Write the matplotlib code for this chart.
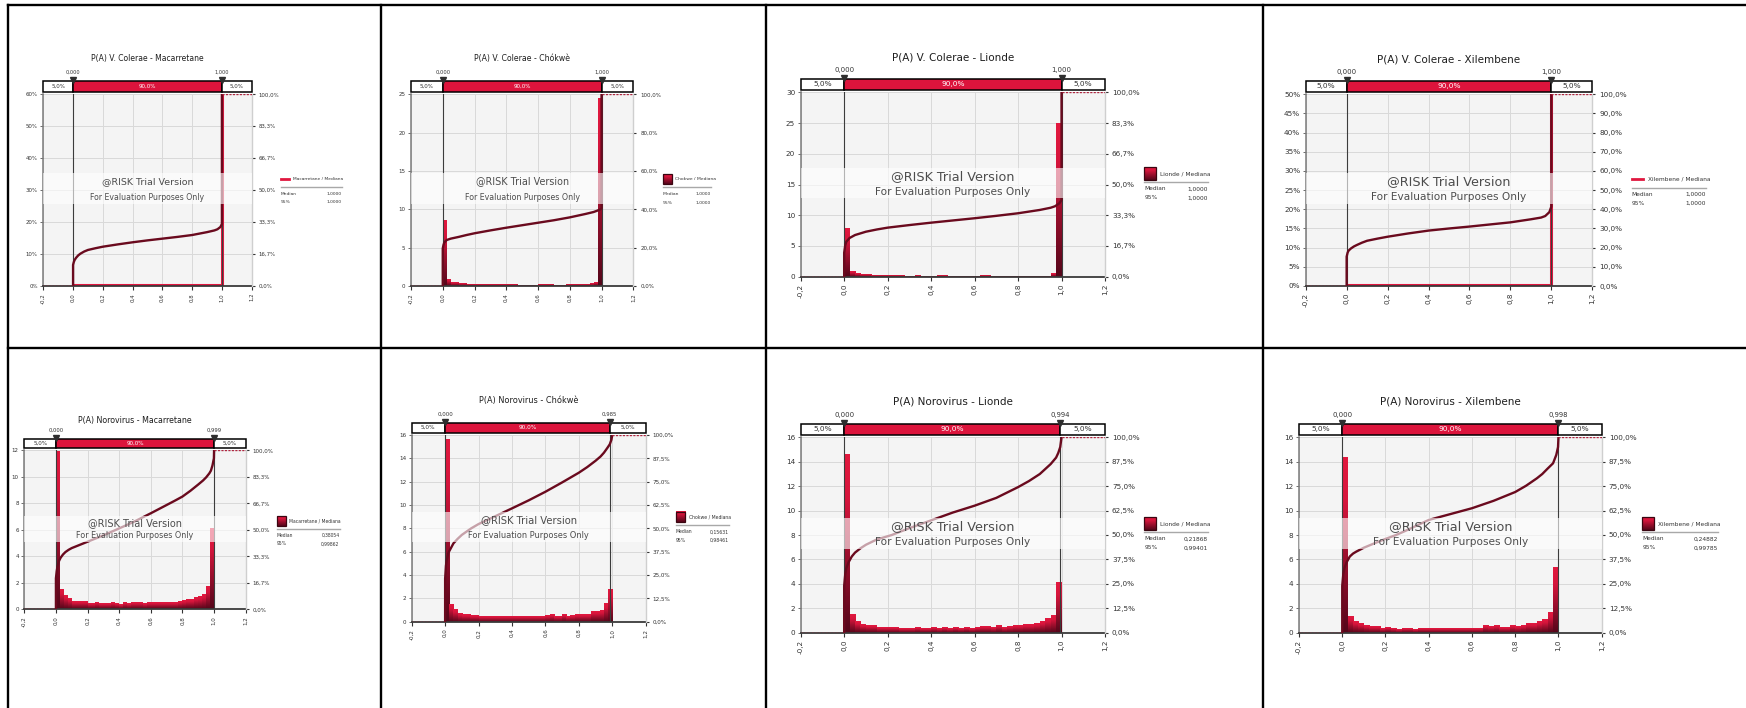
import numpy as np
import matplotlib
matplotlib.use("Agg")
import matplotlib.pyplot as plt
from matplotlib.colors import LinearSegmentedColormap
from matplotlib.patches import Rectangle

# ---------------------------------------------------------------- data
titles = [
    "P(A) V. Colerae - Macarretane", "P(A) V. Colerae - Chókwè",
    "P(A) V. Colerae - Lionde", "P(A) V. Colerae - Xilembene",
    "P(A) Norovirus - Macarretane", "P(A) Norovirus - Chókwè",
    "P(A) Norovirus - Lionde", "P(A) Norovirus - Xilembene",
]
legend_names = ["Macarretane", "Chokwe", "Lionde", "Xilembene",
                "Macarretane", "Chokwe", "Lionde", "Xilembene"]
medians = [1.0, 1.0, 1.0, 1.0, 0.38054, 0.15631, 0.21868, 0.24882]
p95s = [1.0, 1.0, 1.0, 1.0, 0.99862, 0.98461, 0.99401, 0.99785]
lower_marks = [0.0, 0.0, 0.0, 0.0, 0.0, 0.0, 0.0, 0.0]
upper_marks = [1.0, 1.0, 1.0, 1.0, 0.999, 0.985, 0.994, 0.998]
strip_pcts = [5.0, 90.0, 5.0]
x_ticks = [-0.2, 0.0, 0.2, 0.4, 0.6, 0.8, 1.0, 1.2]

# left axis range and step, percent labels or plain
y_max = [60, 25, 30, 50, 12, 16, 16, 16]
y_step = [10, 5, 5, 5, 2, 2, 2, 2]
y_pct = [True, False, False, True, False, False, False, False]

# relative frequency (%) drawn as a line
vc_mac_freq_x = [0.0, 0.0, 1.0, 1.0]
vc_mac_freq_y = [0.0, 0.35, 0.35, 68.0]
vc_xil_freq_x = [0.0, 0.0, 1.0, 1.0]
vc_xil_freq_y = [0.0, 0.3, 0.3, 59.0]

# density histograms, 40 bins over [0, 1]
vc_cho_dens = [8.5, 0.9, 0.45, 0.4, 0.35, 0.3, 0.25, 0.25, 0.2, 0.2,
               0.2, 0.15, 0.2, 0.25, 0.15, 0.15, 0.2, 0.25, 0.15, 0.1,
               0.1, 0.1, 0.1, 0.1, 0.15, 0.15, 0.25, 0.15, 0.1, 0.1,
               0.1, 0.15, 0.2, 0.2, 0.2, 0.2, 0.25, 0.3, 0.45, 24.4]
vc_lio_dens = [7.9, 0.9, 0.55, 0.45, 0.35, 0.3, 0.25, 0.2, 0.2, 0.2,
               0.2, 0.15, 0.15, 0.2, 0.15, 0.15, 0.15, 0.2, 0.2, 0.15,
               0.15, 0.15, 0.15, 0.1, 0.1, 0.2, 0.2, 0.15, 0.15, 0.15,
               0.15, 0.15, 0.15, 0.15, 0.15, 0.15, 0.15, 0.15, 0.55, 25.0]
nv_mac_dens = [11.9, 1.45, 1.0, 0.78, 0.55, 0.55, 0.55, 0.55, 0.43, 0.43,
               0.48, 0.43, 0.43, 0.43, 0.5, 0.43, 0.35, 0.48, 0.38, 0.48,
               0.48, 0.48, 0.43, 0.48, 0.48, 0.52, 0.52, 0.52, 0.52, 0.52,
               0.52, 0.58, 0.62, 0.68, 0.7, 0.88, 0.95, 1.12, 1.7, 6.1]
nv_cho_dens = [15.6, 1.54, 1.09, 0.77, 0.66, 0.66, 0.57, 0.57, 0.49, 0.49,
               0.43, 0.43, 0.49, 0.49, 0.49, 0.43, 0.49, 0.49, 0.43, 0.43,
               0.49, 0.49, 0.49, 0.49, 0.57, 0.66, 0.51, 0.51, 0.6, 0.49,
               0.57, 0.66, 0.66, 0.66, 0.66, 0.86, 0.86, 1.0, 1.57, 2.8]
nv_lio_dens = [14.64, 1.5, 0.96, 0.68, 0.6, 0.6, 0.46, 0.46, 0.46, 0.46,
               0.38, 0.38, 0.33, 0.46, 0.38, 0.38, 0.46, 0.38, 0.46, 0.38,
               0.46, 0.38, 0.46, 0.38, 0.46, 0.55, 0.55, 0.44, 0.63, 0.46,
               0.55, 0.63, 0.63, 0.71, 0.71, 0.79, 0.96, 1.17, 1.45, 4.15]
nv_xil_dens = [14.34, 1.39, 0.98, 0.79, 0.63, 0.55, 0.55, 0.38, 0.46, 0.38,
               0.3, 0.38, 0.38, 0.3, 0.38, 0.38, 0.38, 0.38, 0.38, 0.38,
               0.38, 0.38, 0.38, 0.38, 0.38, 0.38, 0.63, 0.55, 0.63, 0.46,
               0.46, 0.63, 0.55, 0.63, 0.79, 0.79, 0.96, 1.07, 1.7, 5.33]

# cumulative curves (fraction, right axis)
vc_mac_cdf_x = [0.0, 0.0, 0.005, 0.01, 0.02, 0.035, 0.05, 0.075, 0.1, 0.15, 0.2, 0.3, 0.4, 0.5,
                0.6, 0.7, 0.8, 0.9, 0.95, 0.97, 0.99, 1.0, 1.0]
vc_mac_cdf_y = [0.0, 0.11, 0.125, 0.135, 0.147, 0.16, 0.169, 0.18, 0.188, 0.197, 0.205, 0.217,
                0.228, 0.238, 0.247, 0.256, 0.266, 0.281, 0.29, 0.296, 0.308, 0.324, 1.0]
vc_cho_cdf_x = [0.0, 0.0, 0.005, 0.01, 0.025, 0.05, 0.1, 0.15, 0.2, 0.3, 0.4, 0.5, 0.6, 0.7,
                0.8, 0.9, 0.95, 0.97, 0.99, 1.0, 1.0]
vc_cho_cdf_y = [0.0, 0.196, 0.215, 0.227, 0.24, 0.247, 0.256, 0.266, 0.275, 0.29, 0.304, 0.317,
                0.33, 0.343, 0.358, 0.376, 0.386, 0.392, 0.399, 0.405, 1.0]
vc_lio_cdf_x = [0.0, 0.0, 0.005, 0.01, 0.025, 0.05, 0.1, 0.15, 0.2, 0.3, 0.4, 0.5, 0.6, 0.7,
                0.8, 0.9, 0.95, 0.97, 0.99, 1.0, 1.0]
vc_lio_cdf_y = [0.0, 0.13, 0.17, 0.19, 0.21, 0.226, 0.244, 0.256, 0.266, 0.28, 0.293, 0.305,
                0.317, 0.33, 0.344, 0.362, 0.374, 0.382, 0.398, 0.416, 1.0]
vc_xil_cdf_x = [0.0, 0.0, 0.005, 0.01, 0.02, 0.035, 0.05, 0.075, 0.1, 0.15, 0.2, 0.3, 0.4, 0.5,
                0.6, 0.7, 0.8, 0.9, 0.95, 0.97, 0.99, 1.0, 1.0]
vc_xil_cdf_y = [0.0, 0.153, 0.175, 0.185, 0.195, 0.206, 0.214, 0.226, 0.236, 0.247, 0.257, 0.274,
                0.289, 0.3, 0.31, 0.321, 0.332, 0.348, 0.357, 0.365, 0.385, 0.414, 1.0]
nv_mac_cdf_x = [0.0, 0.0, 0.005, 0.01, 0.02, 0.03, 0.045, 0.06, 0.08, 0.1, 0.15, 0.2, 0.25, 0.3,
                0.35, 0.38, 0.4, 0.45, 0.5, 0.55, 0.6, 0.65, 0.7, 0.75, 0.8, 0.85, 0.9, 0.93,
                0.95, 0.97, 0.98, 0.99, 0.995, 0.999, 1.0]
nv_mac_cdf_y = [0.0, 0.195, 0.24, 0.27, 0.305, 0.325, 0.345, 0.36, 0.374, 0.385, 0.405, 0.425,
                0.445, 0.465, 0.487, 0.5, 0.509, 0.531, 0.554, 0.579, 0.604, 0.63, 0.656, 0.682,
                0.709, 0.745, 0.785, 0.81, 0.83, 0.855, 0.872, 0.905, 0.93, 0.95, 1.0]
nv_cho_cdf_x = [0.0, 0.0, 0.005, 0.01, 0.02, 0.035, 0.05, 0.075, 0.1, 0.156, 0.2, 0.25, 0.3,
                0.4, 0.5, 0.6, 0.7, 0.8, 0.85, 0.9, 0.93, 0.95, 0.97, 0.985, 0.995, 1.0]
nv_cho_cdf_y = [0.0, 0.23, 0.30, 0.33, 0.37, 0.395, 0.42, 0.444, 0.465, 0.5, 0.523, 0.544, 0.565,
                0.607, 0.65, 0.696, 0.746, 0.798, 0.828, 0.862, 0.885, 0.905, 0.93, 0.95, 0.975, 1.0]
nv_lio_cdf_x = [0.0, 0.0, 0.005, 0.01, 0.02, 0.035, 0.05, 0.075, 0.1, 0.15, 0.219, 0.3, 0.4,
                0.5, 0.6, 0.7, 0.8, 0.85, 0.9, 0.95, 0.975, 0.985, 0.994, 1.0]
nv_lio_cdf_y = [0.0, 0.24, 0.30, 0.33, 0.36, 0.39, 0.41, 0.432, 0.45, 0.477, 0.5, 0.535, 0.575,
                0.615, 0.65, 0.69, 0.745, 0.776, 0.812, 0.863, 0.896, 0.92, 0.95, 1.0]
nv_xil_cdf_x = [0.0, 0.0, 0.005, 0.01, 0.02, 0.035, 0.05, 0.065, 0.1, 0.15, 0.2, 0.249, 0.3,
                0.4, 0.5, 0.6, 0.7, 0.8, 0.85, 0.9, 0.925, 0.95, 0.975, 0.99, 0.998, 1.0]
nv_xil_cdf_y = [0.0, 0.24, 0.30, 0.33, 0.36, 0.39, 0.405, 0.415, 0.435, 0.458, 0.48, 0.5, 0.525,
                0.577, 0.607, 0.637, 0.675, 0.72, 0.752, 0.79, 0.812, 0.84, 0.867, 0.91, 0.95, 1.0]

freqs = [(vc_mac_freq_x, vc_mac_freq_y), None, None, (vc_xil_freq_x, vc_xil_freq_y),
         None, None, None, None]
densities = [None, vc_cho_dens, vc_lio_dens, None,
             nv_mac_dens, nv_cho_dens, nv_lio_dens, nv_xil_dens]
cdfs = [(vc_mac_cdf_x, vc_mac_cdf_y), (vc_cho_cdf_x, vc_cho_cdf_y),
        (vc_lio_cdf_x, vc_lio_cdf_y), (vc_xil_cdf_x, vc_xil_cdf_y),
        (nv_mac_cdf_x, nv_mac_cdf_y), (nv_cho_cdf_x, nv_cho_cdf_y),
        (nv_lio_cdf_x, nv_lio_cdf_y), (nv_xil_cdf_x, nv_xil_cdf_y)]

# --------------------------------------------------------------- layout
W, H = 1746, 708
plot_boxes = [(43.3, 94.3, 251.7, 286), (411, 94.3, 633.3, 286),
              (800.7, 92.3, 1105, 276.7), (1305.7, 94.3, 1592.3, 286),
              (24.3, 450.3, 245.7, 609.3), (411.7, 435, 645.7, 621.7),
              (800.7, 437.3, 1105, 632.7), (1299, 437.3, 1601.7, 632.7)]
strip_h = [11, 11, 11, 11, 9, 10, 11, 11]
title_y = [59, 59, 58, 59, 421, 400.7, 401.7, 401.7]
scales = [0.74, 0.75, 1.0, 1.0, 0.76, 0.78, 1.0, 1.0]
legend_pos = [(280.7, 179.3, 342), (662.7, 179.3, 711), (1144.3, 173.7, 1208.3),
              (1631.7, 179, 1706), (276.7, 520.7, 339.5), (676, 517.3, 728.5),
              (1144.3, 523.7, 1208), (1642.3, 523.7, 1718)]

RED = "#dc143c"
DARK = "#6a0a1e"
TXT = "#333333"
FS = 1.07  # overall text size factor
bar_cmap = LinearSegmentedColormap.from_list(
    "bars", [(0, "#55061a"), (0.45, "#a00f2e"), (0.75, "#d6153c"), (1, "#e2193f")])
grad = np.linspace(0, 1, 64).reshape(-1, 1)


def px_box(x0, y0, x1, y1):
    return [x0 / W, 1 - y1 / H, (x1 - x0) / W, (y1 - y0) / H]


def comma(v, nd):
    return f"{v:.{nd}f}".replace(".", ",")


fig = plt.figure(figsize=(W / 100, H / 100), dpi=100)
fig.patch.set_facecolor("white")

# pixel canvas for the cell borders, titles and legends
canvas = fig.add_axes([0, 0, 1, 1])
canvas.set_xlim(0, W)
canvas.set_ylim(H, 0)
canvas.axis("off")

for bx in [7.8, 381.3, 766.2, 1262.8]:
    canvas.plot([bx, bx], [5.2, H], color="black", lw=1.7, solid_capstyle="projecting")
for by in [5.2, 348]:
    canvas.plot([7.8, W], [by, by], color="black", lw=1.7, solid_capstyle="projecting")

for i in range(8):
    x0, y0, x1, y1 = plot_boxes[i]
    s = scales[i] * FS
    ymax, ystep = y_max[i], y_step[i]
    lo, hi = lower_marks[i], upper_marks[i]

    ax = fig.add_axes(px_box(x0, y0, x1, y1))
    ax.set_facecolor("#f4f4f4")
    ax.set_axisbelow(True)
    ax.grid(True, color="#d9d9d9", lw=0.7)

    if densities[i] is not None:
        dens = densities[i]
        edges = np.linspace(0, 1, len(dens) + 1)
        for left, right, h in zip(edges[:-1], edges[1:], dens):
            ax.imshow(grad, extent=(left, right, 0, h), origin="lower", aspect="auto",
                      cmap=bar_cmap, zorder=2, interpolation="bilinear")
    else:
        fx, fy = freqs[i]
        ax.plot(fx, fy, color="#e0173f", lw=2.2, zorder=2)

    for m in (lo, hi):
        ax.axvline(m, color="#3c3c3c", lw=0.8, zorder=2.5)

    ax.set_xlim(-0.2, 1.2)
    ax.set_ylim(0, ymax)
    yt = np.arange(0, ymax + ystep / 2, ystep)
    ax.set_yticks(yt)
    ax.set_yticklabels([f"{v:.0f}%" if y_pct[i] else f"{v:.0f}" for v in yt])
    ax.set_xticks(x_ticks)
    ax.set_xticklabels([comma(v, 1) for v in x_ticks], rotation=90)
    ax.tick_params(axis="y", labelsize=4.9 * s, length=2.5, width=0.6, pad=1.5,
                   color="#555555", labelcolor=TXT)
    ax.tick_params(axis="x", labelsize=4.9 * s, length=3, width=0.8, pad=2,
                   color="#333333", labelcolor=TXT)
    ax.spines["top"].set_visible(False)
    ax.spines["right"].set_visible(False)
    ax.spines["left"].set_color("#7a7a7a")
    ax.spines["left"].set_linewidth(1.1)
    ax.spines["bottom"].set_color("#3a3a3a")
    ax.spines["bottom"].set_linewidth(1.3)

    # cumulative curve on the right axis
    ax2 = ax.twinx()
    ax2.set_ylim(0, 1)
    cx, cy = cdfs[i]
    ax2.plot(cx, cy, color=DARK, lw=1.7, zorder=3, solid_joinstyle="round")
    ax2.plot([-0.2, cx[0]], [0, 0], color="#b0243f", lw=1.0, ls=(0, (1.5, 1)), zorder=3)
    ax2.plot([cx[-1], 1.2], [1, 1], color="#b0243f", lw=1.0, ls=(0, (1.5, 1)), zorder=3)
    ax2.set_yticks(yt / ymax)
    ax2.set_yticklabels([comma(v * 100 / ymax, 1) + "%" for v in yt])
    ax2.tick_params(axis="y", labelsize=4.9 * s, length=2, width=0.8, pad=3,
                    color="#333333", labelcolor=TXT)
    for side in ("top", "left", "bottom"):
        ax2.spines[side].set_visible(False)
    ax2.spines["right"].set_color("#cfcfcf")
    ax2.spines["right"].set_linewidth(1.0)

    # trial watermark band
    ax2.add_patch(Rectangle((0, 0.426), 1, 0.163, transform=ax2.transAxes,
                            fc="white", ec="none", alpha=0.62, zorder=5))
    ax2.text(0.5, 0.545, "@RISK Trial Version", transform=ax2.transAxes,
             ha="center", va="center", fontsize=8.6 * s, color="#4d4d4d", zorder=6)
    ax2.text(0.5, 0.462, "For Evaluation Purposes Only", transform=ax2.transAxes,
             ha="center", va="center", fontsize=7.1 * s, color="#4d4d4d", zorder=6)

    # 5% / 90% / 5% strip above the plot
    sb = y0 - 2.5
    st = sb - strip_h[i]
    axs = fig.add_axes(px_box(x0, st, x1, sb))
    axs.set_xlim(-0.2, 1.2)
    axs.set_ylim(0, 1)
    axs.axis("off")
    spans = [(-0.2, lo), (lo, hi), (hi, 1.2)]
    for k, ((a, b), pct) in enumerate(zip(spans, strip_pcts)):
        axs.add_patch(Rectangle((a, 0), b - a, 1, fc=RED if k == 1 else "white",
                                ec="black", lw=1.1, clip_on=False))
        axs.text((a + b) / 2, 0.5, comma(pct, 1) + "%", ha="center", va="center",
                 fontsize=5.0 * s, color="white" if k == 1 else TXT)
    axs.plot([lo, hi], [1.05, 1.05], ls="", marker="v", ms=4.2 * s + 0.5,
             color="#2e2e2e", clip_on=False, zorder=4)
    for m in (lo, hi):
        axs.annotate(comma(m, 3), (m, 1), xytext=(0, 6.2), textcoords="offset points",
                     ha="center", va="center", fontsize=4.6 * s, color=TXT,
                     annotation_clip=False)

    # title
    canvas.text((x0 + x1) / 2, title_y[i], titles[i], ha="center", va="center",
                fontsize=7.0 * s, color="#1e1e1e")

    # legend with summary statistics
    lx, ly, rx = legend_pos[i]
    if densities[i] is not None:
        sw, sh = 11 * s, 12 * s
        canvas.imshow(grad, extent=(lx, lx + sw, ly + sh / 2, ly - sh / 2), origin="lower",
                      aspect="auto", cmap=bar_cmap, zorder=3, interpolation="bilinear")
        canvas.add_patch(Rectangle((lx, ly - sh / 2), sw, sh, fc="none", ec="#3a0510",
                                   lw=0.9, zorder=4))
    else:
        canvas.plot([lx, lx + 11 * s], [ly, ly], color="#e0173f", lw=2.0)
    canvas.text(lx + 15 * s, ly, f"{legend_names[i]} / Mediana", ha="left", va="center",
                fontsize=4.0 * s, color=TXT)
    canvas.plot([lx, rx], [ly + 6 + 2.5 * s, ly + 6 + 2.5 * s], color="#a8a8a8", lw=1.0)
    for row, (name, val) in enumerate([("Median", medians[i]), ("95%", p95s[i])]):
        yy = ly + 13 + 2 * s + row * (7 + 2 * s)
        canvas.text(lx, yy, name, ha="left", va="center", fontsize=4.0 * s, color=TXT)
        canvas.text(rx, yy, comma(val, 4 if val >= 1 else 5), ha="right", va="center",
                    fontsize=4.0 * s, color=TXT)

canvas.set_xlim(0, W)
canvas.set_ylim(H, 0)

fig.savefig("out.png", dpi=100, facecolor="white")
